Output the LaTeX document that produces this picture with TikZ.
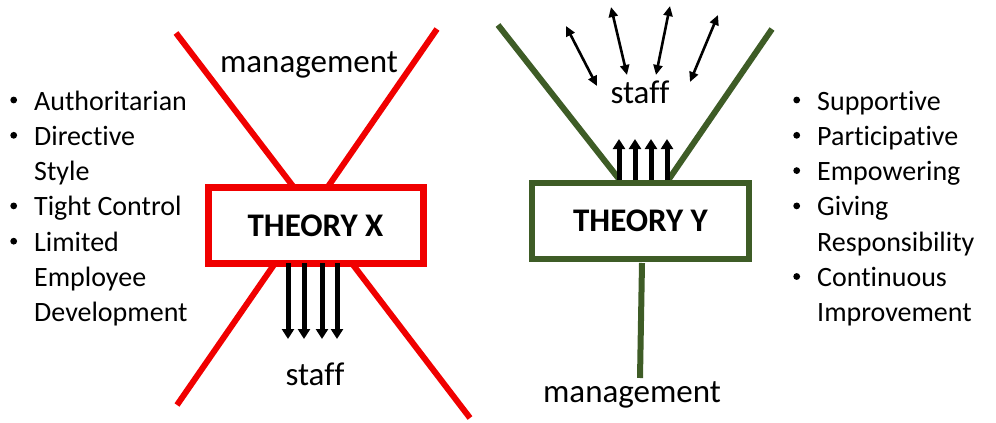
\documentclass[tikz,border=0pt]{standalone}
\usepackage{fontspec}
\setmainfont{Carlito}[Ligatures={NoCommon,NoContextual,NoRequired}]
\usetikzlibrary{arrows.meta}
\definecolor{xred}{RGB}{240,0,0}
\definecolor{ygreen}{RGB}{62,92,38}
\newcommand\mybul{\tikz[baseline=0pt]{\useasboundingbox (0pt,0pt) rectangle (7pt,1pt);\fill[black] (3.5pt,10pt) circle (3.4pt);}}
\tikzset{
  xline/.style={draw=xred, line width=6pt},
  yline/.style={draw=ygreen, line width=6pt},
  theorybox/.style={fill=white, minimum width=#1, minimum height=76pt, inner sep=0pt,
     font=\fontsize{33}{38}\selectfont\bfseries},
  bigarrow/.style={line width=5pt, -{Triangle[width=12pt,length=10pt]}},
  thinarrow/.style={line width=2.6pt, {Triangle[width=9pt,length=10pt]}-{Triangle[width=9pt,length=10pt]}},
  label/.style={font=\fontsize{33}{38}\selectfont, anchor=base, inner sep=0pt},
  listnode/.style={font=\fontsize{28}{35.3}\selectfont, anchor=base west, inner sep=0pt}
}
\begin{document}
\begin{tikzpicture}[x=1pt,y=-1pt]
\useasboundingbox (0,0) rectangle (996,423);
% ---------- Theory X ----------
\coordinate (xa1) at (176,33);
\coordinate (xa2) at (470,418);
\coordinate (xb1) at (437,29);
\coordinate (xb2) at (177,405);
\draw[xline] (xa1) -- (xa2);
\draw[xline] (xb1) -- (xb2);
\node[theorybox=215pt, draw=xred, line width=7pt] (tx) at (315.5,225.5) {THEORY X};
\foreach \i/\x in {1/288,2/304,3/322,4/337}{
  \coordinate (xs\i) at (\x,263);
  \coordinate (xe\i) at (\x,339);
  \draw[bigarrow] (xs\i) -- (xe\i);
}
\node[label] (xman) at (309,72) {management};
\node[label] (xstaff) at (315,385) {staf\kern0ptf};
\node[listnode] (xlist) at (10,110) {\begin{tabular}[t]{@{}p{24pt}@{}l@{}}
\mybul&Authoritarian\\
\mybul&Directive\\
&Style\\
\mybul&Tight Control\\
\mybul&Limited\\
&Employee\\
&Development
\end{tabular}};
% ---------- Theory Y ----------
\node[theorybox=217pt, draw=ygreen, line width=6pt] (ty) at (640.5,221) {THEORY Y};
\coordinate (ya1) at (498,25);
\coordinate (ya2) at (619,179);
\coordinate (yb1) at (772,29);
\coordinate (yb2) at (669,179);
\coordinate (yc1) at (642,263);
\coordinate (yc2) at (640,378);
\draw[yline] (ya1) -- (ya2);
\draw[yline] (yb1) -- (yb2);
\draw[yline] (yc1) -- (yc2);
\foreach \i/\x in {1/619,2/635,3/651,4/667}{
  \coordinate (ys\i) at (\x,180);
  \coordinate (ye\i) at (\x,139);
  \draw[bigarrow] (ys\i) -- (ye\i);
}
\coordinate (d1a) at (566,26);  \coordinate (d1b) at (597,86);
\coordinate (d2a) at (611,7);   \coordinate (d2b) at (627,75);
\coordinate (d3a) at (670,6);   \coordinate (d3b) at (656,75);
\coordinate (d4a) at (718,15);  \coordinate (d4b) at (690,82);
\draw[thinarrow] (d1a) -- (d1b);
\draw[thinarrow] (d2a) -- (d2b);
\draw[thinarrow] (d3a) -- (d3b);
\draw[thinarrow] (d4a) -- (d4b);
\node[label] (ystaff) at (640,103) {staf\kern0ptf};
\node[label] (yman) at (632,402) {management};
\node[listnode] (ylist) at (793,110) {\begin{tabular}[t]{@{}p{24pt}@{}l@{}}
\mybul&Supportive\\
\mybul&Participat\kern0pt ive\\
\mybul&Empowering\\
\mybul&Giving\\
&Responsibility\\
\mybul&Continuous\\
&Improvement
\end{tabular}};
\end{tikzpicture}
\end{document}
